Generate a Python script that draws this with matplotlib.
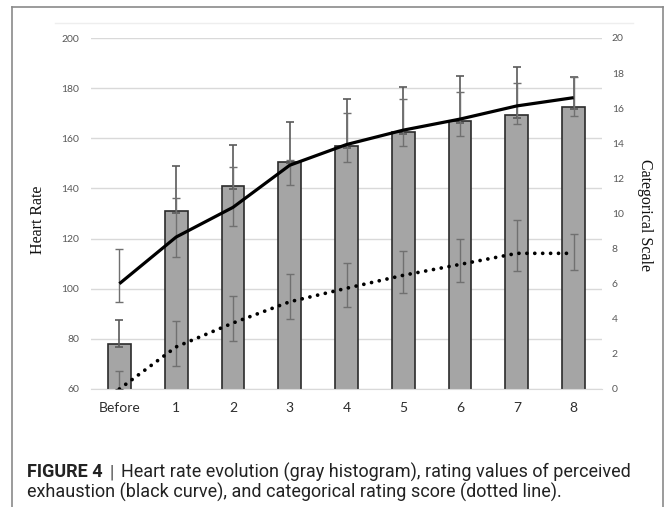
import matplotlib
matplotlib.use("Agg")
import matplotlib.pyplot as plt
from matplotlib.lines import Line2D
import numpy as np

categories = ["Before", "1", "2", "3", "4", "5", "6", "7", "8"]
heart_rate = [78.0, 131.0, 141.0, 150.5, 156.8, 162.4, 166.9, 169.2, 172.6]
hr_err_lo = [76.6, 130.3, 139.9, 150.0, 156.0, 161.7, 166.0, 168.2, 171.8]
hr_err_hi = [87.5, 149.0, 157.2, 166.4, 175.6, 180.6, 184.9, 188.6, 184.6]
rpe = [6.0, 8.66, 10.35, 12.75, 13.93, 14.75, 15.38, 16.13, 16.6]
rpe_lo = [4.96, 7.50, 9.30, 11.62, 12.93, 13.83, 14.42, 15.10, 15.57]
rpe_hi = [7.99, 10.90, 12.67, 13.05, 15.74, 16.52, 16.94, 17.42, 17.79]
cat_score = [0.0, 2.4, 3.76, 4.97, 5.74, 6.48, 7.1, 7.73, 7.73]
cat_lo = [0.0, 1.31, 2.72, 3.99, 4.66, 5.49, 6.10, 6.74, 6.80]
cat_hi = [1.05, 3.89, 5.32, 6.55, 7.16, 7.86, 8.56, 9.65, 8.81]
left_ticks = [60, 80, 100, 120, 140, 160, 180, 200]
right_ticks = [0, 2, 4, 6, 8, 10, 12, 14, 16, 18, 20]
caption_bold = "FIGURE 4"
caption_line1 = "Heart rate evolution (gray histogram), rating values of perceived"
caption_line2 = "exhaustion (black curve), and categorical rating score (dotted line)."

W, H = 668, 507
fig = plt.figure(figsize=(W / 100, H / 100), dpi=100)

def fx(px):
    return px / W

def fy(py):
    return 1 - py / H

ax = fig.add_axes([fx(91), fy(389), (602 - 91) / W, (389 - 38) / H])
x = np.arange(len(categories))

ax.bar(x, heart_rate, width=0.4, color="#a5a5a5", edgecolor="#2b2b2b",
       linewidth=1.2, zorder=2)
hr = np.array(heart_rate)
ax.errorbar(x, hr, yerr=[hr - np.array(hr_err_lo), np.array(hr_err_hi) - hr],
            fmt="none", ecolor="#5a5a5a", elinewidth=1.2, capsize=3, capthick=1.2,
            zorder=3)
ax.set_xlim(-0.5, len(categories) - 0.5)
ax.set_ylim(60, 200)
ax.set_yticks(left_ticks)
ax.set_xticks(x)
ax.set_xticklabels(categories)
ax.grid(axis="y", color="#d9d9d9", linewidth=1)
ax.set_axisbelow(True)
for s in ["top", "left", "right"]:
    ax.spines[s].set_visible(False)
ax.spines["bottom"].set_color("#d9d9d9")
ax.tick_params(axis="y", length=0, pad=8.5, labelsize=7.5, labelcolor="#595959")
ax.tick_params(axis="x", length=0, pad=9, labelsize=10, labelcolor="#2e2e2e")
for lab in ax.get_yticklabels() + ax.get_xticklabels():
    lab.set_family(["Lato", "DejaVu Sans"])

ax2 = ax.twinx()
ax2.set_ylim(0, 20)
ax2.set_yticks(right_ticks)
for s in ["top", "left", "right", "bottom"]:
    ax2.spines[s].set_visible(False)
ax2.tick_params(axis="y", length=0, pad=7, labelsize=7.5, labelcolor="#595959")
for lab in ax2.get_yticklabels():
    lab.set_family(["Lato", "DejaVu Sans"])

r = np.array(rpe)
ax2.errorbar(x, r, yerr=[r - np.array(rpe_lo), np.array(rpe_hi) - r],
             fmt="none", ecolor="#707070", elinewidth=1.0, capsize=3,
             capthick=1.0, zorder=3)
c = np.array(cat_score)
ax2.errorbar(x, c, yerr=[c - np.array(cat_lo), np.array(cat_hi) - c],
             fmt="none", ecolor="#707070", elinewidth=1.0, capsize=3,
             capthick=1.0, zorder=3)
ax2.plot(x, rpe, color="black", linewidth=2.3, solid_capstyle="butt",
         solid_joinstyle="round", zorder=4)
ax2.plot(x, cat_score, color="black", linewidth=2.7,
         linestyle=(0, (0.01, 2.1)), dash_capstyle="round", zorder=4)

fig.text(fx(38), fy(220), "Heart Rate", rotation=90, ha="center", va="center",
         fontsize=11.5, family=["Liberation Serif", "DejaVu Serif"], color="#111111")
fig.text(fx(645), fy(215), "Categorical Scale", rotation=-90, ha="center",
         va="center", fontsize=11.5, family=["Liberation Serif", "DejaVu Serif"],
         color="#111111")

# figure frame
frame_col = "#8a8a8a"
fig.add_artist(Line2D([fx(12.5), fx(12.5)], [fy(7), 0], color=frame_col, lw=1.2))
fig.add_artist(Line2D([fx(12.5), fx(663)], [fy(7), fy(7)], color=frame_col, lw=1.2))
fig.add_artist(Line2D([fx(663), fx(663)], [fy(7), 0], color=frame_col, lw=1.2))
fig.add_artist(Line2D([fx(55), fx(633)], [fy(23), fy(23)], color="#eeeeee", lw=1))

# caption, sized to span the reference width
cap_font = ["Roboto", "DejaVu Sans"]
renderer = fig.canvas.get_renderer()
x0, x_end = 27, 630
y1, y2 = 472, 492

def place_caption(size):
    t1 = fig.text(fx(x0), fy(y1), caption_bold, fontsize=size, fontweight="bold",
                  family=cap_font, color="#222222", va="center", ha="left")
    bb = t1.get_window_extent(renderer)
    t2 = fig.text(bb.x1 / W + fx(7), fy(y1), "|", fontsize=size, family=cap_font,
                  color="#444444", va="center", ha="left")
    bb2 = t2.get_window_extent(renderer)
    t3 = fig.text(bb2.x1 / W + fx(7), fy(y1), caption_line1, fontsize=size,
                  family=cap_font, color="#222222", va="center", ha="left")
    t4 = fig.text(fx(x0), fy(y2), caption_line2, fontsize=size, family=cap_font,
                  color="#222222", va="center", ha="left")
    return [t1, t2, t3, t4], t3.get_window_extent(renderer).x1

arts, right = place_caption(11)
size = 11 * (x_end - x0) / (right - x0)
for a in arts:
    a.remove()
place_caption(size)

fig.savefig("out.png", dpi=100)
